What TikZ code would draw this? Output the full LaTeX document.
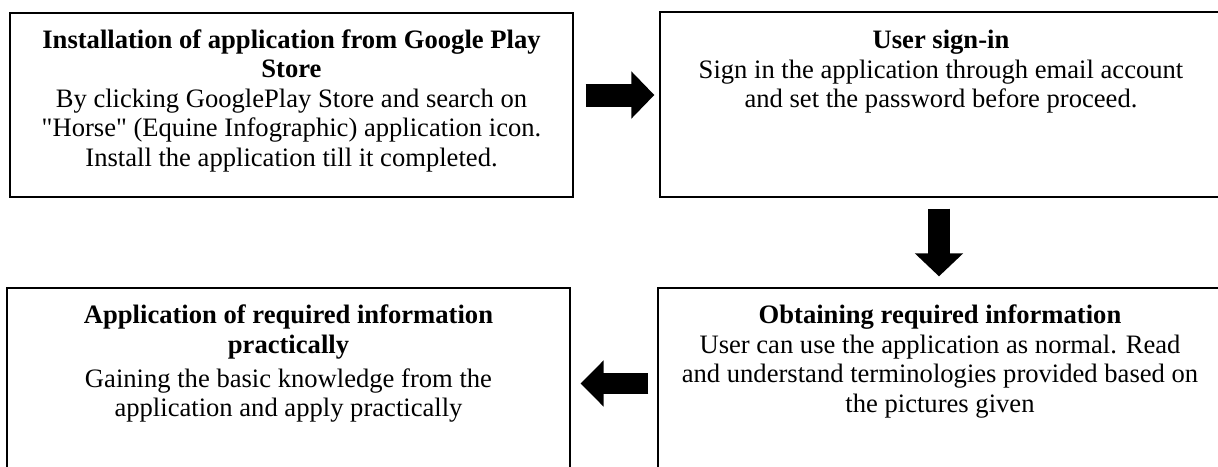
\documentclass[tikz,border=0pt]{standalone}
\usepackage{fontspec}
\setmainfont{Liberation Serif}[Ligatures=TeXOff]
\usetikzlibrary{arrows.meta}
\usetikzlibrary{calc}

\tikzset{
  flowbox/.style={draw=black, line width=1.3pt, rectangle, inner sep=0pt},
  boxtext/.style={anchor=north, align=center, inner sep=0pt, font=\fontsize{26.6}{29.5}\selectfont},
  flowarrow/.style={line width=23pt, -{Triangle[width=46pt,length=23pt]}}
}

\begin{document}
\begin{tikzpicture}[x=1pt, y=1pt]
  % Frame to fix the page size:
  \useasboundingbox (0,0) rectangle (1218,-466);
  % Boxes
  \node[flowbox, minimum width=563pt, minimum height=184pt] (install) at (291.5,-105)   {};
  \node[flowbox, minimum width=562pt, minimum height=185pt] (signin)  at (941,-104.5)   {};
  \node[flowbox, minimum width=564pt, minimum height=187pt] (obtain)  at (940,-381.5)   {};
  \node[flowbox, minimum width=563pt, minimum height=187pt] (apply)   at (288.5,-381.5) {};
  % Texts
  \node[boxtext] (installtext) at (291.5,-29.5) {\textbf{Installation of application from Google Play}\\
      \textbf{Store}\\
      By clicking GooglePlay Store and search on\\
      "Horse" (Equine Infographic) application icon.\\
      Install the application till it completed.};
  \node[boxtext] (signintext) at (941,-30) {\textbf{User sign-in}\\
      Sign in the application through email account\\
      and set the password before proceed.};
  \node[boxtext] (obtaintext) at (940,-304.6) {\textbf{Obtaining required information}\\
      User can use the application as normal. Read\\
      and understand terminologies provided based on\\
      the pictures given};
  \node[boxtext] (applytext) at (288.5,-304.6) {\textbf{Application of required information}\\
      \textbf{practically}\\[4.5pt]
      Gaining the basic knowledge from the\\
      application and apply practically};
  % Arrows between the steps
  \draw[flowarrow, shorten <=12pt, shorten >=5pt]
       ([yshift=10pt]install.east) -- ([yshift=10pt]install.east -| signin.west);
  \draw[flowarrow, line width=22pt, -{Triangle[width=47pt,length=23pt]}, shorten <=11pt, shorten >=11pt]
       ([xshift=-2pt]signin.south) -- ([xshift=-2pt]signin.south |- obtain.north);
  \draw[flowarrow, line width=21pt, -{Triangle[width=45pt,length=23pt]}, shorten <=9pt, shorten >=10pt]
       ([yshift=-2pt]obtain.west) -- ([yshift=-2pt]obtain.west -| apply.east);
\end{tikzpicture}
\end{document}
